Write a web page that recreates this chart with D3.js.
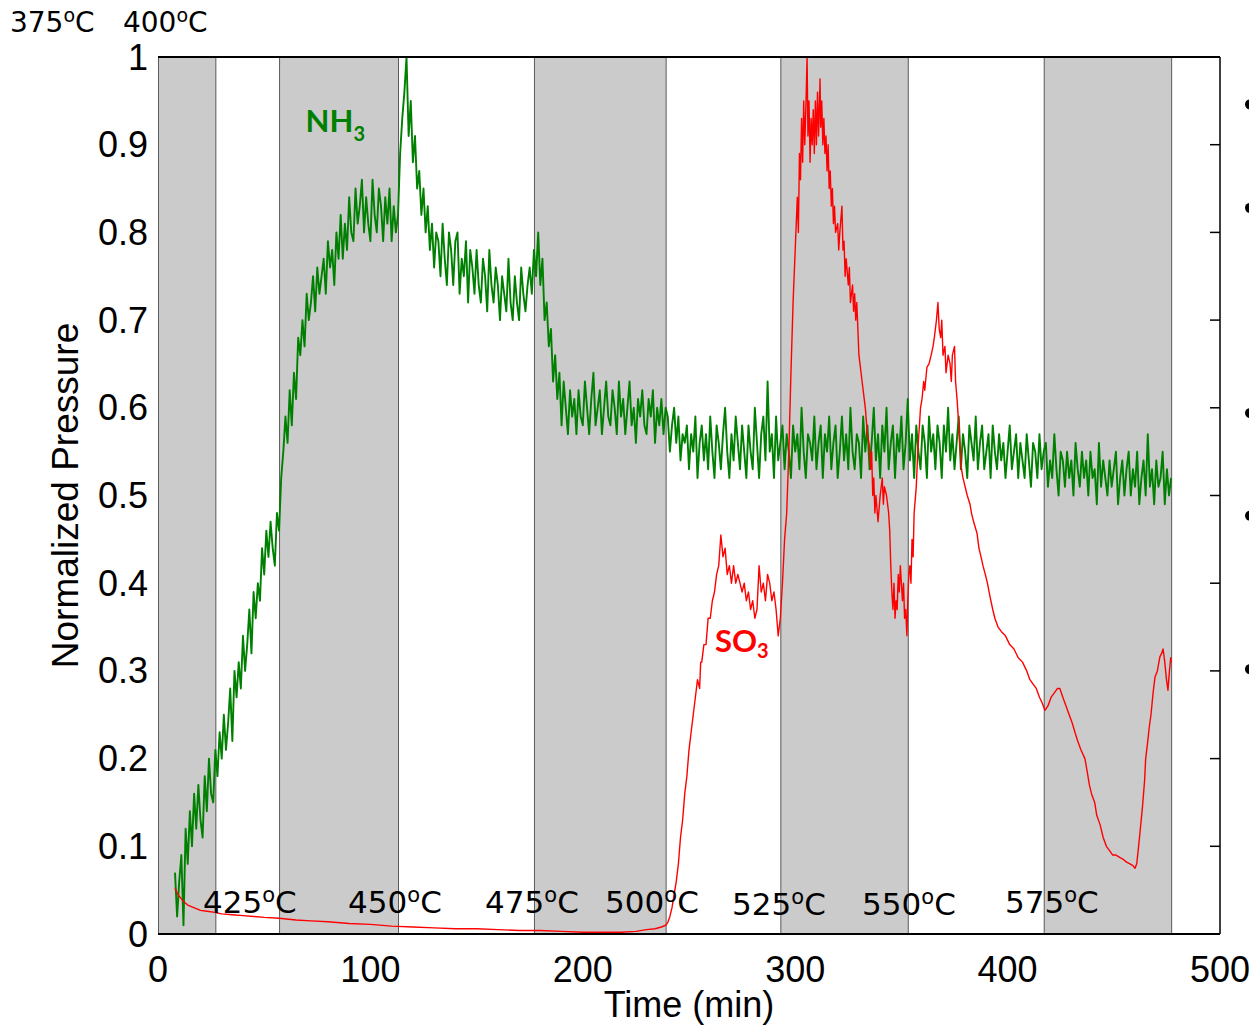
<!DOCTYPE html>
<html><head><meta charset="utf-8">
<script src="https://cdn.jsdelivr.net/npm/d3@7/dist/d3.min.js"></script>
<style>body{margin:0;background:#fff}svg{display:block}</style>
</head><body>
<svg id="chart" width="1249" height="1026"></svg>
<script>
// ---------- data ----------
const xTicks = [0, 100, 200, 300, 400, 500];
const yTicks = [0, 0.1, 0.2, 0.3, 0.4, 0.5, 0.6, 0.7, 0.8, 0.9, 1];
const yTickLabels = ["0", "0.1", "0.2", "0.3", "0.4", "0.5", "0.6", "0.7", "0.8", "0.9", "1"];
const bandStarts = [0, 57, 177, 293, 417];
const bandEnds = [27, 113, 239, 353, 477];
const tempLabels = ["375", "400", "425", "450", "475", "500", "525", "550", "575"];
const tempLabelTimes = [-69.7, -16.5, 21.2, 89.5, 154, 210.5, 270.3, 331.5, 398.8];
const tempLabelLevels = [1.0285, 1.0285, 0.024, 0.024, 0.024, 0.024, 0.022, 0.022, 0.024];
const axisTitleX = "Time (min)";
const axisTitleY = "Normalized Pressure";

// NH3: one reading per minute starting at t = 8 min
const nh3Start = 8;
const nh3Values = [
.07,.02,.06,.09,.01,.12,.08,.14,.10,.16,
.12,.17,.13,.11,.18,.14,.20,.16,.15,.21,
.18,.23,.20,.25,.21,.24,.28,.22,.30,.27,
.31,.28,.34,.30,.33,.37,.32,.39,.36,.40,
.38,.44,.41,.46,.43,.47,.44,.42,.48,.46,
.52,.55,.59,.56,.62,.58,.64,.61,.68,.66,
.70,.67,.73,.70,.72,.75,.71,.76,.73,.75,
.77,.73,.79,.76,.78,.74,.80,.77,.82,.77,
.81,.78,.84,.80,.79,.85,.81,.83,.86,.80,
.84,.81,.79,.86,.82,.80,.85,.83,.79,.84,
.81,.85,.79,.83,.80,.82,.89,.93,.96,1.0,
.91,.95,.88,.91,.85,.87,.82,.85,.80,.83,
.78,.81,.76,.80,.79,.75,.81,.77,.74,.80,
.78,.74,.79,.80,.73,.77,.75,.79,.72,.78,
.76,.73,.78,.74,.72,.77,.75,.71,.78,.74,
.72,.76,.74,.70,.75,.73,.71,.77,.72,.70,
.75,.72,.70,.76,.73,.71,.74,.76,.73,.78,
.75,.80,.74,.77,.70,.72,.67,.69,.63,.66,
.61,.64,.58,.63,.60,.57,.62,.59,.61,.57,
.62,.59,.58,.63,.60,.57,.61,.64,.58,.60,
.62,.57,.60,.63,.59,.58,.62,.60,.57,.63,
.59,.61,.57,.60,.63,.58,.60,.56,.61,.59,
.62,.58,.57,.61,.59,.62,.56,.60,.58,.61,
.57,.60,.59,.55,.58,.60,.56,.59,.54,.57,
.56,.58,.53,.57,.55,.59,.52,.56,.58,.54,
.57,.53,.59,.55,.52,.58,.56,.53,.57,.60,
.55,.52,.57,.54,.59,.56,.53,.58,.55,.52,
.58,.55,.53,.60,.56,.52,.57,.59,.54,.63,
.55,.57,.52,.59,.54,.56,.58,.53,.57,.55,
.52,.58,.55,.57,.53,.60,.55,.52,.57,.56,
.54,.59,.53,.56,.58,.52,.57,.55,.59,.53,
.56,.58,.52,.55,.59,.54,.57,.53,.60,.55,
.53,.57,.56,.52,.59,.55,.58,.53,.56,.60,
.54,.57,.52,.58,.55,.60,.53,.56,.58,.52,
.57,.55,.59,.53,.56,.61,.54,.57,.52,.58,
.55,.53,.58,.56,.52,.59,.55,.57,.53,.58,
.56,.52,.58,.55,.60,.54,.57,.53,.56,.59,
.53,.57,.55,.52,.58,.56,.54,.59,.53,.56,
.58,.53,.55,.57,.52,.58,.55,.53,.57,.54,
.56,.52,.55,.58,.53,.55,.57,.52,.56,.54,
.52,.57,.54,.51,.56,.55,.52,.57,.53,.55,
.56,.51,.54,.52,.57,.53,.50,.55,.54,.51,
.55,.52,.54,.50,.56,.53,.51,.55,.52,.54,
.50,.55,.52,.53,.49,.56,.51,.54,.52,.50,
.54,.51,.53,.55,.49,.52,.54,.50,.53,.55,
.50,.53,.51,.55,.49,.52,.54,.50,.57,.51,
.53,.49,.54,.51,.52,.55,.49,.53,.50,.52
];

// SO3 readings (time in min, value)
const so3Time = [
8,9,10,11,12,14,16,18,20,23,26,30,35,40,45,50,57,65,72,80,90,100,110,120,130,140,150,160,170,180,190,200,210,218,225,230,234,237,239,240,
241,242,243,244,245,246,247,248,249,250,251,252,253,254,255,255.5,
256,257,258,259,260,261,262,263,264,265,266,267,268,269,270,271,272,273,274,275,276,277,278,279,280,281,282,283,284,285,286,287,288,289,290,291,292,293,294,295,296,
297,298,299,300,301,301.5,302,302.5,303,303.5,304,304.5,305,305.6,306,306.5,307,307.5,308,308.5,309,309.5,310,310.5,311,311.7,312,312.5,313,313.5,314,314.5,315,315.5,316,316.5,317,317.5,318,318.5,319,320,320.5,321,322,322.5,323,323.5,324,325,325.5,326,327,327.5,328,328.5,329,330,
331,332,333,334,335,335.5,336,336.5,337,337.5,338,339,340,341,341.5,342,343,344,344.5,345,345.5,346,346.5,347,347.5,348,348.5,349,349.5,350,350.5,351,351.5,352,352.6,353,353.5,354,354.5,355,355.5,356,
357,357.8,358.5,359,359.7,360.5,361,362,363,364,364.9,365.5,366,366.5,367.2,367.8,368.5,369,369.6,370.5,371,372,372.9,373.5,374,375,375.5,376.2,377,377.6,378.3,379,380,381,382.3,383,384,385.6,386.5,387.5,388.4,389.5,390.5,391.7,393,394,395.5,
397,399,401,403,405,407,409,410.5,412,413.5,415,416,417.6,419,420.5,422,423.5,424.6,426,427.5,429,430.5,431.7,433,434.5,436.4,437.5,438.5,439.5,441,442,443.5,445,446.5,448,449.5,451,453,454.5,456,457.6,459,460,460.8,461.5,462.5,463.5,464.5,465,466,466.7,467.5,468.5,469.4,470.5,471.7,472.5,473.2,474,474.8,475.5,476.2,476.8,477
];
const so3Value = [
.052,.047,.043,.040,.037,.033,.031,.029,.027,.026,.025,.023,.022,.021,.020,.019,.018,.016,.015,.014,.012,.011,.009,.008,.007,.006,.006,.005,.004,.004,.003,.002,.002,.002,.003,.005,.006,.008,.010,.013,
.02,.03,.045,.06,.08,.11,.13,.16,.18,.21,.23,.25,.27,.29,.28,.31,
.31,.33,.33,.36,.36,.38,.39,.41,.42,.455,.43,.44,.41,.42,.40,.42,.40,.41,.40,.39,.40,.38,.39,.37,.38,.36,.37,.42,.39,.40,.38,.41,.40,.38,.39,.37,.34,.36,.40,.45,.48,
.55,.64,.72,.78,.84,.80,.89,.86,.93,.88,.95,.90,.94,1.0,.91,.95,.88,.93,.90,.94,.89,.95,.90,.96,.91,.975,.92,.95,.90,.93,.89,.91,.87,.90,.85,.87,.83,.85,.81,.83,.80,.81,.78,.80,.83,.78,.79,.75,.77,.74,.76,.72,.74,.71,.73,.70,.72,.66,
.64,.62,.60,.57,.555,.53,.55,.50,.52,.48,.50,.47,.50,.52,.49,.51,.50,.48,.46,.42,.39,.37,.40,.36,.38,.37,.41,.39,.42,.40,.38,.40,.36,.37,.34,.38,.41,.42,.40,.45,.43,.48,
.51,.555,.58,.60,.61,.63,.62,.646,.65,.66,.67,.68,.69,.70,.72,.69,.68,.70,.66,.67,.64,.66,.65,.63,.66,.67,.63,.61,.58,.555,.53,.52,.51,.50,.49,.48,.47,.457,.44,.43,.42,.41,.40,.385,.37,.36,.35,
.345,.34,.33,.325,.315,.31,.30,.29,.285,.28,.27,.265,.255,.26,.27,.275,.28,.28,.27,.26,.25,.24,.23,.22,.21,.20,.185,.17,.16,.15,.135,.125,.11,.10,.095,.09,.09,.087,.085,.082,.08,.078,.075,.08,.096,.12,.145,.175,.20,.22,.236,.25,.275,.293,.30,.316,.32,.325,.31,.29,.278,.30,.315,.31
];

const bulletLevels = [0.946, 0.828, 0.594, 0.477, 0.302];

// ---------- drawing ----------
const svg = d3.select("#chart");
const x = d3.scaleLinear().domain([0, 500]).range([158, 1220]);
const y = d3.scaleLinear().domain([0, 1]).range([934, 57]);

svg.append("defs").append("clipPath").attr("id", "plotclip")
  .append("rect").attr("x", 158).attr("y", 50).attr("width", 1062).attr("height", 884);

// bands
svg.append("g").selectAll("rect").data(bandStarts).join("rect")
  .attr("x", (d) => x(d) + 0.5)
  .attr("y", y(1))
  .attr("width", (d, i) => x(bandEnds[i]) - x(d))
  .attr("height", y(0) - y(1))
  .attr("fill", "#cbcbcb")
  .attr("stroke", "#5a5a5a")
  .attr("stroke-width", 1);

const nh3 = nh3Values.map((v, i) => ({ t: nh3Start + i, v }));
const so3 = so3Time.map((t, i) => ({ t, v: so3Value[i] }));
const line = d3.line().x((d) => x(d.t)).y((d) => y(d.v));

const lines = svg.append("g").attr("clip-path", "url(#plotclip)");
lines.append("path").datum(nh3).attr("d", line)
  .attr("fill", "none").attr("stroke", "#008000").attr("stroke-width", 1.9).attr("stroke-linejoin", "round");
lines.append("path").datum(so3).attr("d", line)
  .attr("fill", "none").attr("stroke", "#ff0000").attr("stroke-width", 1.4).attr("stroke-linejoin", "round");

// frame
svg.append("line").attr("x1", x(0)).attr("x2", x(500)).attr("y1", y(1)).attr("y2", y(1))
  .attr("stroke", "#000").attr("stroke-width", 2);
svg.append("line").attr("x1", x(0)).attr("x2", x(500)).attr("y1", y(0)).attr("y2", y(0))
  .attr("stroke", "#000").attr("stroke-width", 2);
svg.append("line").attr("x1", x(500)).attr("x2", x(500)).attr("y1", y(1)).attr("y2", y(0))
  .attr("stroke", "#000").attr("stroke-width", 1.5);

// right inner ticks
svg.append("g").selectAll("line").data(yTicks.filter((d) => d > 0 && d < 1)).join("line")
  .attr("x1", x(500) - 10).attr("x2", x(500))
  .attr("y1", (d) => y(d)).attr("y2", (d) => y(d))
  .attr("stroke", "#000").attr("stroke-width", 1.5);

// tick labels
const tickFont = "'Liberation Sans', Arial, sans-serif";
svg.append("g").selectAll("text").data(yTicks).join("text")
  .attr("x", x(0) - 10).attr("y", (d) => y(d))
  .attr("text-anchor", "end").attr("dominant-baseline", "central")
  .attr("font-family", tickFont).attr("font-size", 36).attr("fill", "#000")
  .text((d, i) => yTickLabels[i]);
svg.append("g").selectAll("text").data(xTicks).join("text")
  .attr("x", (d) => x(d)).attr("y", 982)
  .attr("text-anchor", "middle")
  .attr("font-family", tickFont).attr("font-size", 36).attr("fill", "#000")
  .text((d) => d);

svg.append("text").attr("x", (x(0) + x(500)) / 2).attr("y", 1017)
  .attr("text-anchor", "middle").attr("font-family", tickFont).attr("font-size", 36)
  .text(axisTitleX);
svg.append("text").attr("transform", `translate(78,${(y(0) + y(1)) / 2}) rotate(-90)`)
  .attr("text-anchor", "middle").attr("font-family", tickFont).attr("font-size", 37)
  .text(axisTitleY);

// temperature labels
const tempFont = "'DejaVu Sans', Verdana, sans-serif";
tempLabels.forEach((lab, i) => {
  const top = tempLabelLevels[i] > 1;
  const fs = top ? 28 : 31;
  const t = svg.append("text")
    .attr("x", x(tempLabelTimes[i])).attr("y", y(tempLabelLevels[i]))
    .attr("font-family", tempFont).attr("font-size", fs).attr("fill", "#000");
  t.append("tspan").text(lab);
  t.append("tspan").attr("font-size", top ? 19 : 21).attr("dy", top ? -10 : -11).text("o");
  t.append("tspan").attr("dy", top ? 10 : 11).text("C");
});

// series labels
const lblFont = "Lato, 'Open Sans', sans-serif";
const nh3Lbl = svg.append("text").attr("x", x(69.5)).attr("y", y(0.915))
  .attr("font-family", lblFont).attr("font-weight", "bold").attr("font-size", 31).attr("fill", "#008000");
nh3Lbl.append("tspan").text("NH");
nh3Lbl.append("tspan").attr("font-size", 20).attr("dy", 9).text("3");
const so3Lbl = svg.append("text").attr("x", x(262.2)).attr("y", y(0.321))
  .attr("font-family", lblFont).attr("font-weight", "bold").attr("font-size", 31).attr("fill", "#ff0000");
so3Lbl.append("tspan").text("SO");
so3Lbl.append("tspan").attr("font-size", 20).attr("dy", 6).text("3");

// cut-off bullets at right edge
svg.append("g").selectAll("circle").data(bulletLevels).join("circle")
  .attr("cx", 1250).attr("cy", (d) => y(d)).attr("r", 5).attr("fill", "#000");
</script>
</body></html>
